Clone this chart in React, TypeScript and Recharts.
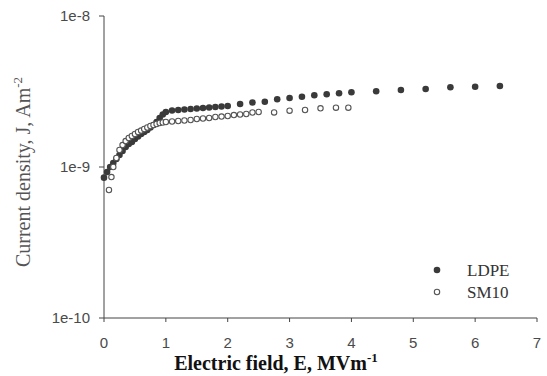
import { Label, Scatter, ScatterChart, XAxis, YAxis } from "recharts";

// electric field (MV/m) and current density (A/m^2)
const ldpeField = [
  0, 0.05, 0.1, 0.15, 0.2, 0.25, 0.3, 0.35, 0.4, 0.45, 0.5, 0.55, 0.6, 0.65,
  0.7, 0.75, 0.8, 0.85, 0.9, 0.95, 1.0, 1.1, 1.2, 1.3, 1.4, 1.5, 1.6, 1.7,
  1.8, 1.9, 2.0, 2.2, 2.4, 2.6, 2.8, 3.0, 3.2, 3.4, 3.6, 3.8, 4.0, 4.4, 4.8,
  5.2, 5.6, 6.0, 6.4,
];
const ldpeJ = [
  8.5e-10, 9.27e-10, 1.0e-9, 1.063e-9, 1.13e-9, 1.2e-9, 1.276e-9, 1.356e-9,
  1.42e-9, 1.464e-9, 1.533e-9, 1.592e-9, 1.654e-9, 1.705e-9, 1.758e-9,
  1.826e-9, 1.897e-9, 1.986e-9, 2.11e-9, 2.227e-9, 2.313e-9, 2.367e-9,
  2.385e-9, 2.403e-9, 2.421e-9, 2.44e-9, 2.459e-9, 2.477e-9, 2.496e-9,
  2.515e-9, 2.535e-9, 2.613e-9, 2.674e-9, 2.707e-9, 2.808e-9, 2.864e-9,
  2.921e-9, 2.984e-9, 3.03e-9, 3.077e-9, 3.124e-9, 3.172e-9, 3.236e-9,
  3.286e-9, 3.372e-9, 3.403e-9, 3.439e-9,
];

const sm10Field = [
  0.08, 0.12, 0.15, 0.2, 0.25, 0.3, 0.35, 0.4, 0.45, 0.5, 0.55, 0.6, 0.65,
  0.7, 0.75, 0.8, 0.85, 0.9, 0.95, 1.0, 1.1, 1.2, 1.3, 1.4, 1.5, 1.6, 1.7,
  1.8, 1.9, 2.0, 2.1, 2.2, 2.3, 2.4, 2.5, 2.75, 3.0, 3.25, 3.5, 3.75, 3.95,
];
const sm10J = [
  7.04e-10, 8.58e-10, 1.0e-9, 1.147e-9, 1.296e-9, 1.398e-9, 1.486e-9,
  1.556e-9, 1.604e-9, 1.654e-9, 1.705e-9, 1.744e-9, 1.785e-9, 1.826e-9,
  1.868e-9, 1.897e-9, 1.926e-9, 1.956e-9, 1.971e-9, 1.986e-9, 2.001e-9,
  2.016e-9, 2.032e-9, 2.047e-9, 2.079e-9, 2.095e-9, 2.111e-9, 2.143e-9,
  2.159e-9, 2.176e-9, 2.209e-9, 2.227e-9, 2.244e-9, 2.296e-9, 2.313e-9,
  2.3e-9, 2.36e-9, 2.385e-9, 2.448e-9, 2.47e-9, 2.47e-9,
];

const xTicks = [0, 1, 2, 3, 4, 5, 6, 7];
const yTicks = [1e-10, 1e-9, 1e-8];
const yTickLabels = ["1e-10", "1e-9", "1e-8"];

const ldpe = ldpeField.map((x, i) => ({ x, y: ldpeJ[i] }));
const sm10 = sm10Field.map((x, i) => ({ x, y: sm10J[i] }));

const serif = "'Liberation Serif', 'Times New Roman', serif";
const sans = "'Liberation Sans', Arial, sans-serif";
const axisStroke = "#444";
const tickStyle = { fontSize: 15, fill: "#4a4a4a", fontFamily: sans };

const FilledDot = (p: any) => <circle cx={p.cx} cy={p.cy} r={3.3} fill="#3a3a3a" />;
const OpenDot = (p: any) => (
  <circle cx={p.cx} cy={p.cy} r={2.7} fill="#fff" stroke="#555" strokeWidth={1.1} />
);

function LegendBox() {
  return (
    <svg
      width={110}
      height={50}
      style={{ position: "absolute", left: 425, top: 260, display: "block" }}
    >
      <circle cx={12} cy={10} r={3.3} fill="#3a3a3a" />
      <text x={42} y={16} fontSize={17} fontFamily={serif} fill="#333">
        LDPE
      </text>
      <circle cx={12} cy={32} r={2.7} fill="#fff" stroke="#555" strokeWidth={1.1} />
      <text x={42} y={38} fontSize={17} fontFamily={serif} fill="#333">
        SM10
      </text>
    </svg>
  );
}

export default function App() {
  return (
    <div
      style={{
        position: "absolute",
        left: 0,
        top: 0,
        width: 547,
        height: 376,
        background: "#fff",
      }}
    >
      <ScatterChart
        width={547}
        height={376}
        margin={{ top: 16, right: 10, bottom: 0, left: 0 }}
      >
        <XAxis
          type="number"
          dataKey="x"
          domain={[0, 7]}
          ticks={xTicks}
          interval={0}
          height={58}
          stroke={axisStroke}
          tickSize={4}
          tickMargin={15}
          tick={tickStyle}
        >
          <Label
            content={() => (
              <text
                x={276}
                y={370}
                textAnchor="middle"
                fontSize={20}
                fontWeight="bold"
                fontFamily={serif}
                fill="#111"
              >
                Electric field, E, MVm
                <tspan fontSize={13} dy={-8}>
                  -1
                </tspan>
              </text>
            )}
          />
        </XAxis>
        <YAxis
          type="number"
          dataKey="y"
          scale="log"
          domain={[1e-10, 1e-8]}
          ticks={yTicks}
          interval={0}
          allowDataOverflow
          width={104}
          stroke={axisStroke}
          tickSize={5}
          tickMargin={9}
          tick={tickStyle}
          tickFormatter={(v: number) => yTickLabels[yTicks.indexOf(v)] ?? ""}
        >
          <Label
            content={() => (
              <text
                x={30}
                y={172}
                transform="rotate(-90 30 172)"
                textAnchor="middle"
                fontSize={20}
                fontFamily={serif}
                fill="#555"
              >
                Current density, J, Am
                <tspan fontSize={13} dy={-8}>
                  -2
                </tspan>
              </text>
            )}
          />
        </YAxis>
        <Scatter
          name="LDPE"
          data={ldpe}
          shape={FilledDot}
          isAnimationActive={false}
        />
        <Scatter
          name="SM10"
          data={sm10}
          shape={OpenDot}
          isAnimationActive={false}
        />
      </ScatterChart>
      <LegendBox />
    </div>
  );
}
